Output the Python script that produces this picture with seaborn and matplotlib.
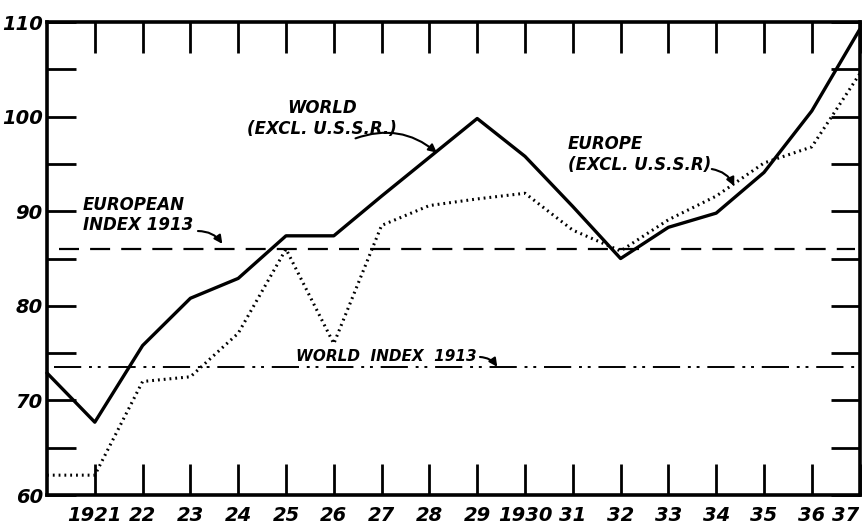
import matplotlib
matplotlib.use("Agg")
import matplotlib.pyplot as plt
import seaborn as sns
import pandas as pd

# data
years = list(range(1920, 1938))
world = [72.9, 67.7, 75.8, 80.8, 82.9, 87.4, 87.4, 91.6, 95.7, 99.8,
         95.8, 90.5, 85.0, 88.3, 89.8, 94.1, 100.6, 109.2]
europe = [62.1, 62.1, 72.0, 72.5, 77.1, 86.0, 76.0, 88.5, 90.6, 91.3,
          91.9, 88.0, 85.8, 89.1, 91.6, 95.1, 96.8, 104.5]
world_index_1913 = 73.5
europe_index_1913 = 86.0
year_labels = ["1921", "22", "23", "24", "25", "26", "27", "28", "29", "1930",
               "31", "32", "33", "34", "35", "36", "37"]
y_labels = ["60", "70", "80", "90", "100", "110"]

sns.set_style("white")
plt.rcParams["font.family"] = ["DejaVu Sans"]
plt.rcParams["text.color"] = "black"
plt.rcParams["xtick.color"] = "black"
plt.rcParams["ytick.color"] = "black"

df = pd.DataFrame({"year": years, "world": world, "europe": europe})

fig = plt.figure(figsize=(8.64, 5.32), dpi=100)
ax = fig.add_axes([0.0544, 0.0695, 0.9405, 0.8891])

sns.lineplot(data=df, x="year", y="world", ax=ax, color="black",
             linewidth=2.4, clip_on=False)
sns.lineplot(data=df, x="year", y="europe", ax=ax, color="black",
             linewidth=2.2, linestyle=(0, (0.6, 1.3)), clip_on=False)

# 1913 reference lines
ax.plot([1920.25, 1936.9], [europe_index_1913] * 2, color="black",
        linewidth=1.6, linestyle=(0, (9, 5)))
ax.plot([1920.15, 1936.9], [world_index_1913] * 2, color="black",
        linewidth=1.4, linestyle=(0, (14, 4, 1.5, 3, 1.5, 4)))

ax.set_xlim(1920, 1937)
ax.set_ylim(60, 110)
ax.set_xlabel("")
ax.set_ylabel("")

# ticks: inward, on all four sides, labels drawn bottom/left
ax.set_xticks(years[1:])
ax.set_xticklabels(year_labels)
ax.set_yticks([60, 70, 80, 90, 100, 110])
ax.set_yticklabels(y_labels)
ax.set_yticks([65, 75, 85, 95, 105], minor=True)
ax.tick_params(axis="x", which="major", direction="in", length=22, width=2,
               top=True, bottom=True, pad=8, colors="black")
ax.tick_params(axis="y", which="both", direction="in", length=21, width=2,
               left=True, right=True, pad=3, colors="black")
for lab in ax.get_xticklabels() + ax.get_yticklabels():
    lab.set_fontsize(14)
    lab.set_fontweight("bold")
    lab.set_fontstyle("italic")
    lab.set_color("black")
ax.get_xticklabels()[-1].set_ha("right")

for sp in ax.spines.values():
    sp.set_visible(True)
    sp.set_linewidth(2.6)
    sp.set_color("black")

txt = dict(fontsize=12, fontweight="bold", fontstyle="italic", color="black")
arrow = dict(arrowstyle="-|>", color="black", lw=1.5,
             connectionstyle="arc3,rad=-0.3", mutation_scale=12)

ax.text(1925.75, 99.8, "WORLD\n(EXCL. U.S.S.R.)", ha="center", va="center",
        multialignment="center", **txt)
ax.annotate("", xy=(1928.2, 96.0), xytext=(1926.4, 97.6), arrowprops=arrow)

ax.text(1932.4, 96.0, "EUROPE\n(EXCL. U.S.S.R)", ha="center", va="center",
        multialignment="left", **txt)
ax.annotate("", xy=(1934.4, 92.4), xytext=(1933.85, 94.5), arrowprops=arrow)

ax.text(1920.75, 89.6, "EUROPEAN\nINDEX 1913", ha="left", va="center",
        multialignment="left", **txt)
ax.annotate("", xy=(1923.7, 86.3), xytext=(1923.1, 87.9), arrowprops=arrow)

ax.text(1925.2, 74.6, "WORLD  INDEX  1913", ha="left", va="center",
        fontsize=11, fontweight="bold", fontstyle="italic", color="black")
ax.annotate("", xy=(1929.45, 73.3), xytext=(1929.0, 74.6), arrowprops=arrow)

fig.savefig("out.png", dpi=100)
